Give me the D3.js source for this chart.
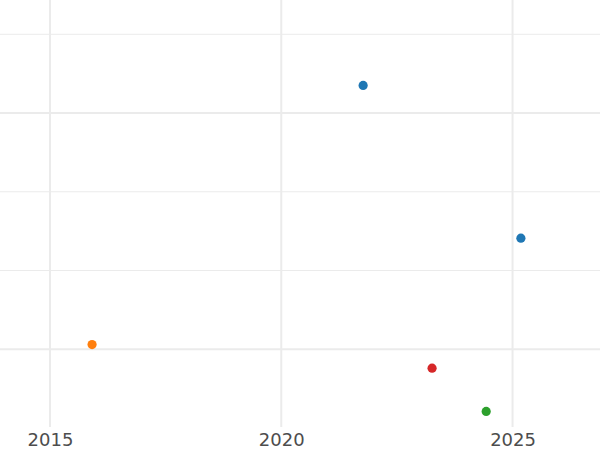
<!DOCTYPE html>
<html>
<head>
<meta charset="utf-8">
<script src="https://cdn.jsdelivr.net/npm/d3@7"></script>
<style>
  body { margin: 0; background: #fff; }
  svg { display: block; }
</style>
</head>
<body>
<div id="chart"></div>
<script>
// --- data ---
const years = [2021.77, 2025.18, 2015.91, 2023.26, 2024.43];
const values = [4.35, 2.41, 1.06, 0.76, 0.21];
const groups = ['a', 'a', 'b', 'c', 'd'];
const groupColors = ['#1f77b4', '#ff7f0e', '#d62728', '#2ca02c'];
const xTicks = [2015, 2020, 2025];
const yMajor = [1, 4];
const yMinor = [2, 3, 5];

/** --- DIMENSIONS --- */
const width = 600;
const height = 450;
const panelBottom = 427;

const svg = d3.select('#chart')
  .append('svg')
  .attr('width', width)
  .attr('height', height);

/** --- SCALES --- */
const x = d3.scaleLinear()
  .domain([2013.92, 2026.89])
  .range([0, width]);

const y = d3.scaleLinear()
  .domain([0, 5.432])
  .range([428, 0.25]);

const color = d3.scaleOrdinal()
  .domain(['a', 'b', 'c', 'd'])
  .range(groupColors);

/** --- GRID --- */
const grid = svg.append('g');

grid.selectAll('line.ymin')
  .data(yMinor)
  .enter().append('line')
  .attr('class', 'ymin')
  .attr('x1', 0).attr('x2', width)
  .attr('y1', d => y(d)).attr('y2', d => y(d))
  .attr('stroke', '#ebebeb')
  .attr('stroke-width', 1);

grid.selectAll('line.ymaj')
  .data(yMajor)
  .enter().append('line')
  .attr('class', 'ymaj')
  .attr('x1', 0).attr('x2', width)
  .attr('y1', d => y(d)).attr('y2', d => y(d))
  .attr('stroke', '#ebebeb')
  .attr('stroke-width', 2);

grid.selectAll('line.xmaj')
  .data(xTicks)
  .enter().append('line')
  .attr('class', 'xmaj')
  .attr('x1', d => x(d)).attr('x2', d => x(d))
  .attr('y1', 0).attr('y2', panelBottom)
  .attr('stroke', '#ebebeb')
  .attr('stroke-width', 2);

/** --- AXIS --- */
const xAxis = svg.append('g')
  .attr('transform', `translate(0,${panelBottom})`)
  .call(d3.axisBottom(x).tickValues(xTicks).tickFormat(d3.format('d')).tickSize(0).tickPadding(6));

xAxis.select('.domain').remove();
xAxis.selectAll('text')
  .attr('font-family', 'DejaVu Sans')
  .attr('font-size', 18)
  .attr('fill', '#4d4d4d');

/** --- POINTS --- */
svg.append('g')
  .selectAll('circle')
  .data(years)
  .enter().append('circle')
  .attr('cx', d => x(d))
  .attr('cy', (d, i) => y(values[i]))
  .attr('r', 4.6)
  .attr('fill', (d, i) => color(groups[i]));
</script>
</body>
</html>
